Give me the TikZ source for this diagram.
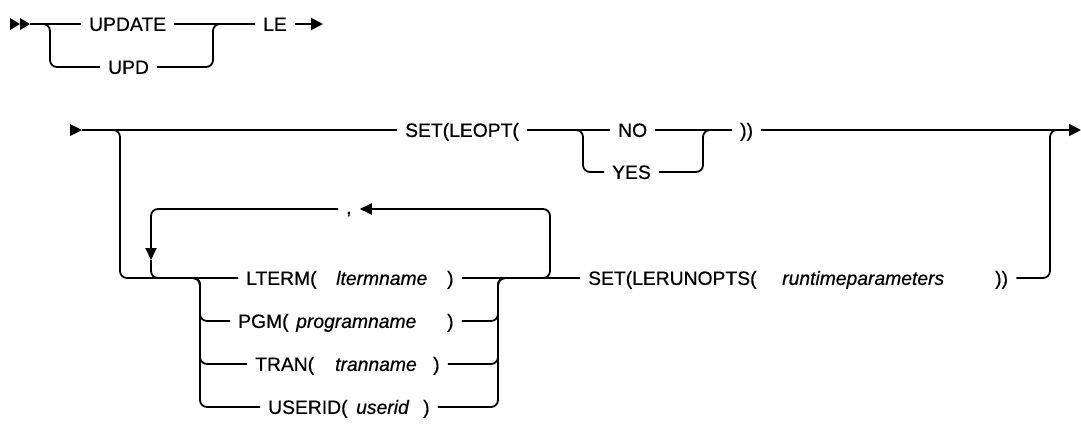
\documentclass[tikz,border=0pt]{standalone}
\usepackage{fontspec}
\setmainfont{Liberation Sans}[FakeBold=0.5]
\usetikzlibrary{arrows.meta}
\begin{document}
\begin{tikzpicture}[x=1pt,y=-1pt,
  ln/.style={line width=1.8pt},
  rr/.style={line width=1.8pt, rounded corners=7pt},
  lbl/.style={inner xsep=8pt, inner ysep=0pt, anchor=west, xshift=-8pt,
    text height=13.8pt, text depth=0pt, font=\fontsize{19.3}{19}\selectfont},
  var/.style={lbl, font=\fontsize{19.3}{19}\selectfont\itshape},
  tip/.style={-{Triangle[length=12pt,width=12pt]}},
  tipsm/.style={-{Triangle[length=12pt,width=11pt]}}]
\useasboundingbox (0,0) rectangle (1081,431);

% ---------- row 1 ----------
\fill (10,18) -- (20,24) -- (10,30) -- cycle;
\fill (20,18) -- (30,24) -- (20,30) -- cycle;
\coordinate (s1) at (30,24);
\coordinate (e1) at (323,24);
\coordinate (r1L) at (50,24);
\coordinate (r1R) at (213,24);
\node[lbl] (update) at (89,24) {UPDATE\hspace{8pt}};
\node[lbl] (upd) at (108,67) {UPD\hspace{5pt}};
\node[lbl] (le) at (263,24) {LE};
\draw[ln] (s1) -- (update.west);
\draw[ln] (update.east) -- (le.west);
\draw[ln,tip] (le.east) -- (e1);
\draw[rr] (s1) -| (upd.west -| r1L) -- (upd.west);
\draw[rr] (upd.east) -| (r1R) -- (le.west);

% ---------- row 2 ----------
\fill (70,124) -- (82,130) -- (70,136) -- cycle;
\coordinate (s2) at (82,130);
\coordinate (e2) at (1081,130);
\coordinate (c2L) at (583,130);
\coordinate (c2R) at (703,130);
\coordinate (r2L) at (120,130);
\coordinate (r2R) at (1050,130);
\coordinate (r2Rr) at (1062,130);
\node[lbl] (setleopt) at (405,130) {SET(LEOPT(};
\node[lbl] (no) at (618,130) {NO};
\node[lbl] (yes) at (612,172) {YES};
\node[lbl] (leoptend) at (740,130) {))};
\draw[ln] (s2) -- (setleopt.west);
\draw[ln] (setleopt.east) -- (no.west);
\draw[ln] (no.east) -- (leoptend.west);
\draw[ln,tip] (leoptend.east) -- (e2);
\draw[rr] (setleopt.east) -| (yes.west -| c2L) -- (yes.west);
\draw[rr] (yes.east) -| (c2R) -- (leoptend.west);

% ---------- lower group ----------
\node[lbl] (lterm) at (246,278) {LTERM(};
\node[var] (ltermv) at (336,278) {ltermname};
\node[lbl] (ltermc) at (447,278) {)};
\node[lbl] (pgm) at (238,321) {PGM(};
\node[var] (pgmv) at (296,321) {programname};
\node[lbl] (pgmc) at (447,321) {)};
\node[lbl] (tran) at (255,364) {TRAN(};
\node[var] (tranv) at (335,364) {tranname};
\node[lbl] (tranc) at (433,364) {)};
\node[lbl] (userid) at (268,407) {USERID(};
\node[var] (useridv) at (356,407) {userid};
\node[lbl] (useridc) at (423,407) {)};
\node[lbl] (setlerun) at (588,278) {SET(LERUNOPTS(};
\node[var] (rtp) at (782,278) {runtimeparameters};
\node[lbl] (rtpc) at (995,278) {))};
\node[lbl] (comma) at (346,207) {,};

\coordinate (cLt) at (185,278);
\coordinate (cL) at (200,407);
\coordinate (cR) at (498,278);
\coordinate (cRr) at (515,278);
\coordinate (loopR) at (550,209);
\coordinate (aL) at (151,260);

% outer branch to lower line
\draw[rr] (s2) -| (lterm.west -| r2L) -- (lterm.west);
% choice left rail
\draw[rr] (cLt) -| (cL) -- (userid.west);
\draw[rr] (cLt) -| (pgm.west -| cL) -- (pgm.west);
\draw[rr] (cLt) -| (tran.west -| cL) -- (tran.west);
% choice right rail
\draw[rr] (pgmc.east) -| (cR) -- (cRr);
\draw[rr] (tranc.east) -| (cR) -- (cRr);
\draw[rr] (useridc.east) -| (cR) -- (cRr);
% main lower line
\draw[ln] (ltermc.east) -- (setlerun.west);
% repeat loop
\draw[rr,tipsm] (ltermc.east) -| (loopR) -- (comma.east |- loopR);
\draw[rr,tipsm] (comma.west |- loopR) -| (aL);
\draw[rr] (aL) |- (lterm.west);
% right rejoin
\draw[rr] (rtpc.east) -| (r2R) -- (r2Rr);
\end{tikzpicture}
\end{document}
